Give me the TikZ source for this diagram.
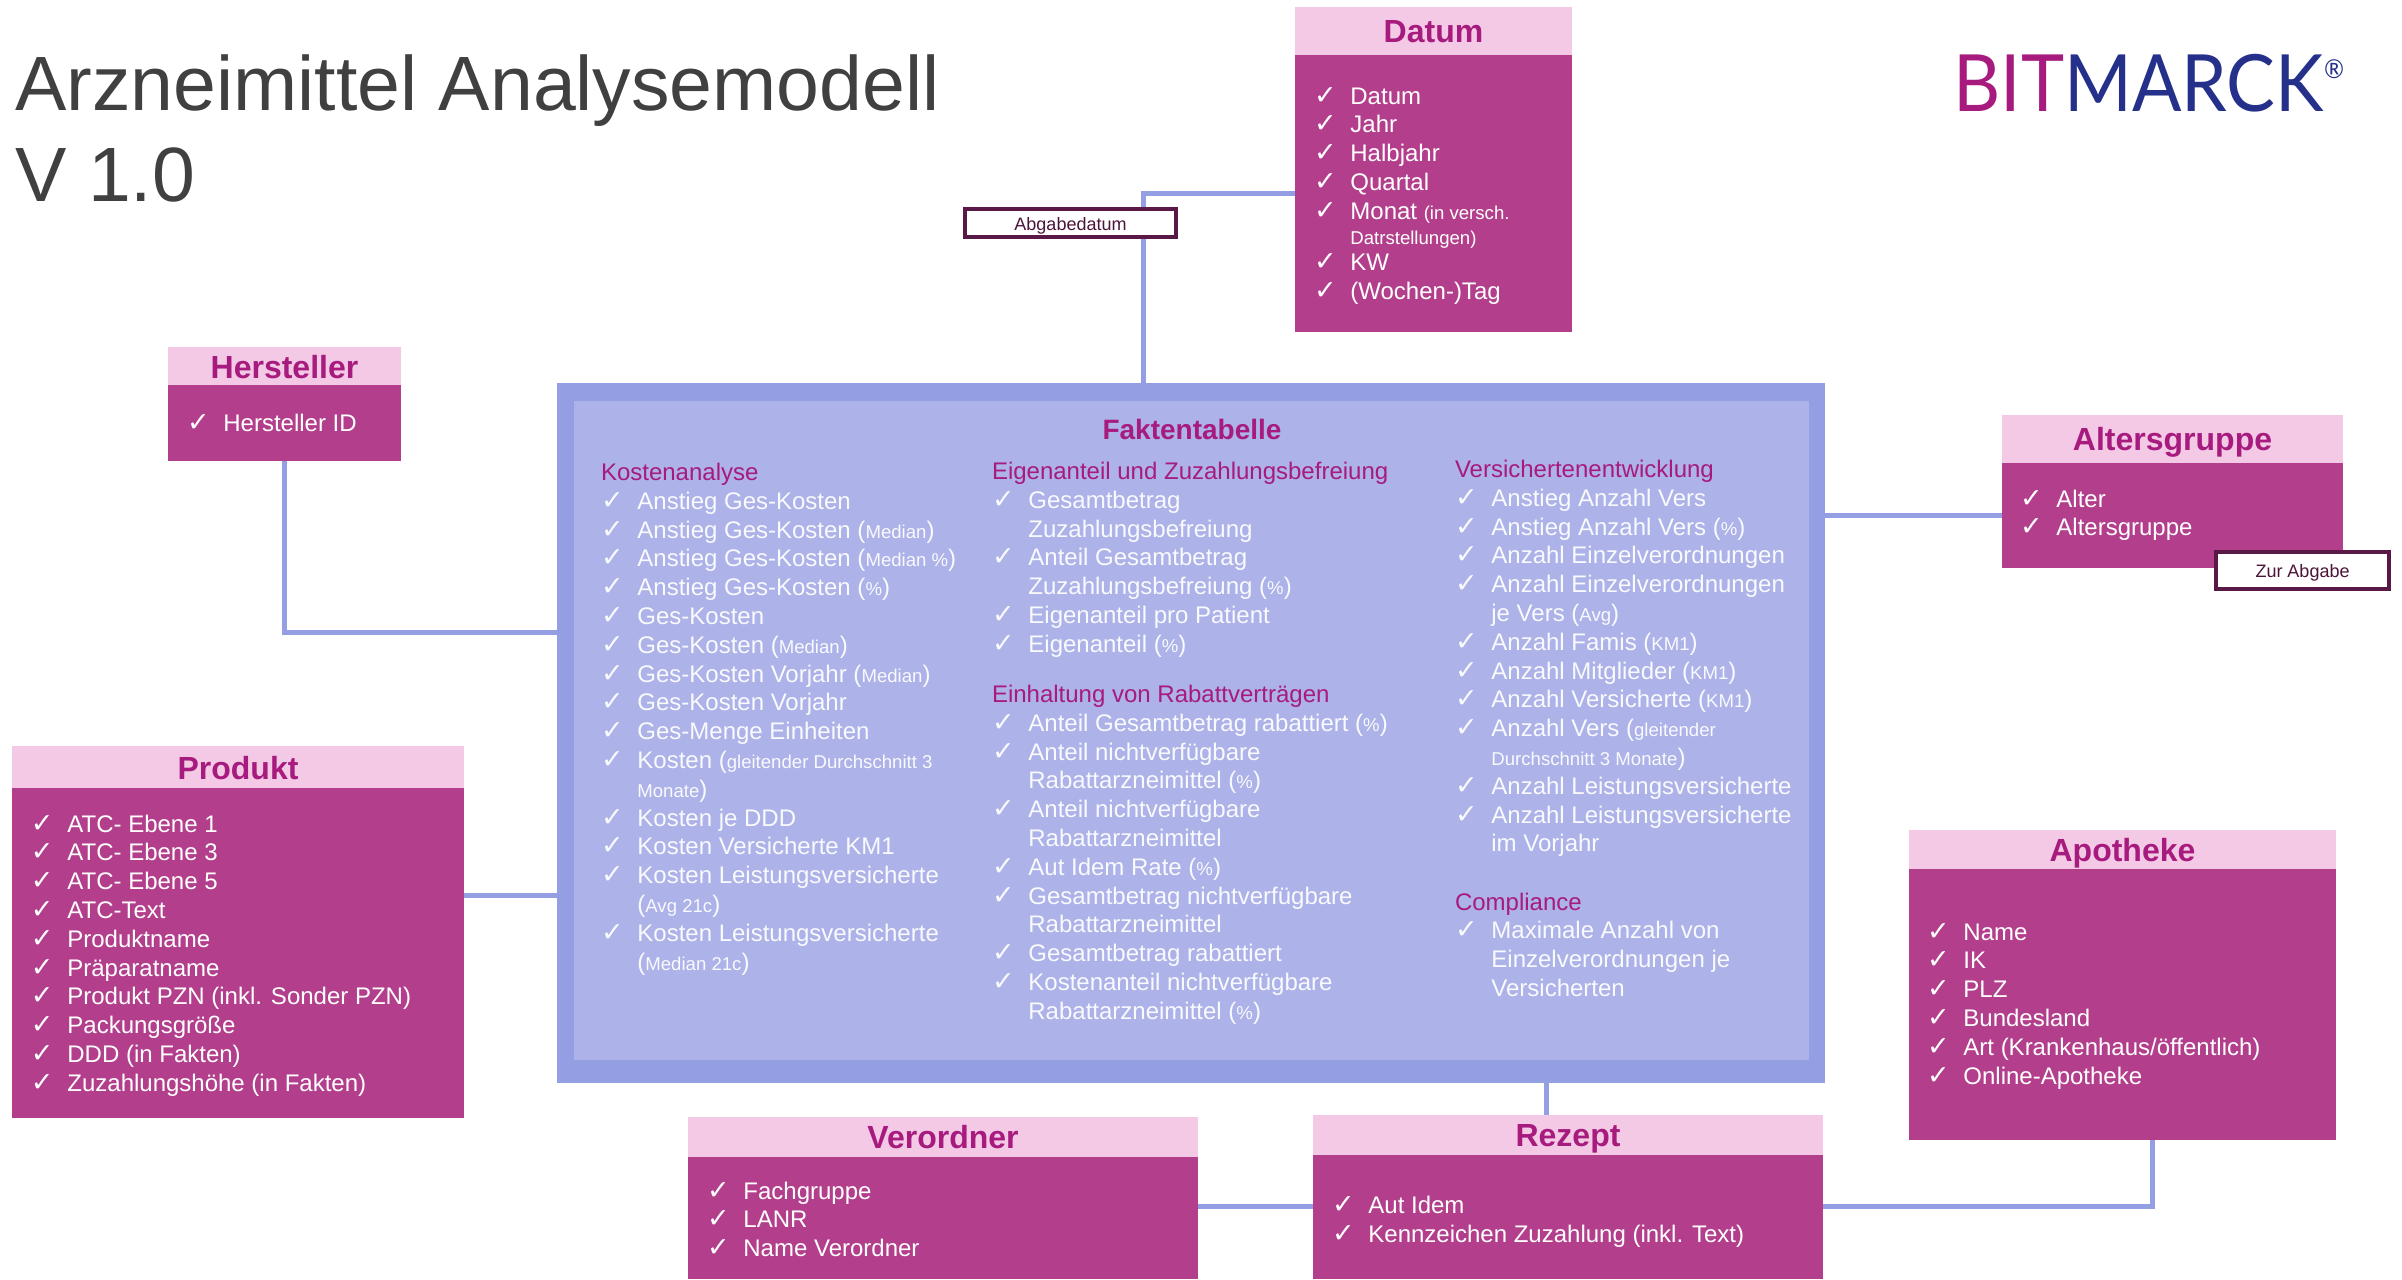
\documentclass[tikz,border=0pt]{standalone}
\usepackage{fontspec}
\setmainfont{Liberation Sans}
\newfontfamily\ckfont{DejaVu Sans}
\newfontfamily\logofont{Lato}
\definecolor{bodyc}{HTML}{B33F8C}
\definecolor{headc}{HTML}{F3C9E6}
\definecolor{titc}{HTML}{A71A7E}
\definecolor{outerc}{HTML}{949EE2}
\definecolor{innerc}{HTML}{ADB2E8}
\definecolor{framec}{HTML}{5A1846}
\definecolor{greyt}{HTML}{404040}
\definecolor{navyc}{HTML}{25308A}
\newcommand\ckitem{\strut\makebox[18.2pt][l]{\ckfont\fontsize{13.5}{14.4}\selectfont ✓}}
\newcommand\ckcont{\strut\hspace*{18.2pt}}
\newcommand\sm[1]{{\fontsize{9.3}{14.4}\selectfont #1}}
\newcommand\sect[1]{\strut{\color{titc}#1}}
\newcommand\hd[2]{\raisebox{#1}[0pt][0pt]{#2}}
\newcommand\bx[7]{%
  \pgfmathsetmacro\bxcx{(#2+#4)/2}\pgfmathsetmacro\bxcy{(#3+#5)/2}%
  \pgfmathsetmacro\bxw{(#4-#2)*0.5}\pgfmathsetmacro\bxh{(#5-#3)*0.5}%
  \node[#6,minimum width=\bxw pt,minimum height=\bxh pt] (#1) at (\bxcx,\bxcy) {#7};}
\tikzset{
  plain/.style={draw=none,inner sep=0pt,outer sep=0pt},
  bodybox/.style={plain,fill=bodyc},
  headbox/.style={plain,fill=headc,text=titc,font={\fontsize{16}{19}\selectfont\bfseries}},
  tagbox/.style={draw=framec,line width=2pt,fill=white,inner sep=0pt,text=framec!85!black,font={\fontsize{9}{11}\selectfont}},
  conn/.style={draw=outerc,line width=2.5pt},
  lst/.style={anchor=north west,inner sep=0pt,outer sep=0pt,align=left,yshift=10.08pt,text=white,font={\fontsize{12}{14.4}\selectfont}},
  lstb/.style={lst,text=white!93!innerc},
}
\begin{document}
\begin{tikzpicture}[x=0.5pt,y=-0.5pt]
\useasboundingbox (0,0) rectangle (2402,1279);
% fact table
\bx{fakt}{557}{383}{1825}{1083}{plain,fill=outerc}{}
\bx{inner}{574}{401}{1809}{1060}{plain,fill=innerc}{}
\node[anchor=center,inner sep=0pt,text=titc,font={\fontsize{14}{17}\selectfont\bfseries}] (fakttitle) at (1192,429) {Faktentabelle};
% boxes
\bx{datumb}{1295}{55}{1572}{332}{bodybox}{}
\bx{datumh}{1295}{7}{1572}{55}{headbox}{\hd{-6pt}{Datum}}
\bx{herstb}{168}{385}{401}{461}{bodybox}{}
\bx{hersth}{168}{347}{401}{385}{headbox}{\hd{-6pt}{Hersteller}}
\bx{prodb}{12}{788}{464}{1118}{bodybox}{}
\bx{prodh}{12}{746}{464}{788}{headbox}{\hd{-6pt}{Produkt}}
\bx{altb}{2002}{463}{2343}{568}{bodybox}{}
\bx{alth}{2002}{415}{2343}{463}{headbox}{\hd{-5.8pt}{Altersgruppe}}
\bx{apob}{1909}{869}{2336}{1140}{bodybox}{}
\bx{apoh}{1909}{830}{2336}{869}{headbox}{\hd{-6pt}{Apotheke}}
\bx{rezb}{1313}{1155}{1823}{1279}{bodybox}{}
\bx{rezh}{1313}{1115}{1823}{1155}{headbox}{\hd{-5.8pt}{Rezept}}
\bx{verb}{688}{1157}{1198}{1279}{bodybox}{}
\bx{verh}{688}{1117}{1198}{1157}{headbox}{\hd{-5.6pt}{Verordner}}
% connectors
\coordinate (c1) at (1143,193);
\coordinate (c2) at (284,632);
\coordinate (c3) at (464,895);
\coordinate (c4) at (1825,515);
\coordinate (c5) at (1546,1083);
\coordinate (c6) at (2152,1206);
\coordinate (c7) at (1198,1206);
\draw[conn] (datumb.west |- c1) -- (c1) -- (c1 |- fakt.north);
\draw[conn] (c2 |- herstb.south) -- (c2) -- (fakt.west |- c2);
\draw[conn] (c3) -- (fakt.west |- c3);
\draw[conn] (c4) -- (altb.west |- c4);
\draw[conn] (c5) -- (c5 |- rezh.north);
\draw[conn] (c6 |- apob.south) -- (c6) -- (rezb.east |- c6);
\draw[conn] (c7) -- (rezb.west |- c7);
% title and logo
\node[anchor=base west,inner sep=0pt,align=left,text=greyt,font={\fontsize{38.5}{46}\selectfont}] (title) at (15,111) {Arzneimittel Analysemodell};
\node[anchor=base west,inner sep=0pt,text=greyt,font={\fontsize{38.5}{46}\selectfont}] (version) at (15,201) {V 1.0};
\node[anchor=base west,inner sep=0pt,font={\logofont\fontsize{39.5}{40}\selectfont}] (logo) at (1953,112) {\scalebox{0.925}[1]{{\color{titc}BIT}{\color{navyc}MARCK}\raisebox{16.5pt}{\color{navyc}\fontsize{13}{13}\selectfont®}}};
% tags
\bx{tagdatum}{965}{209}{1176}{237}{tagbox}{\hd{-3.8pt}{Abgabedatum}}
% lists in boxes
\node[lst] (ldatum) at (1314,104) {\ckitem Datum\\\ckitem Jahr\\\ckitem Halbjahr\\\ckitem Quartal\\\ckitem Monat \sm{(in versch.}\\[-1.6pt]\ckcont\sm{Datrstellungen)}\\[-1.6pt]\ckitem KW\\\ckitem (Wochen-)Tag};
\node[lst] (lherst) at (187,431) {\ckitem Hersteller ID};
\node[lst] (lprod) at (31,832) {\ckitem ATC- Ebene 1\\\ckitem ATC- Ebene 3\\\ckitem ATC- Ebene 5\\\ckitem ATC-Text\\\ckitem Produktname\\\ckitem Präparatname\\\ckitem Produkt PZN (inkl. Sonder PZN)\\\ckitem Packungsgröße\\\ckitem DDD (in Fakten)\\\ckitem Zuzahlungshöhe (in Fakten)};
\node[lst] (lalt) at (2020,507) {\ckitem Alter\\\ckitem Altersgruppe};
\bx{tagzur}{2216}{552}{2389}{589}{tagbox}{\hd{-3.7pt}{Zur Abgabe}}
\node[lst] (lapo) at (1927,940) {\ckitem Name\\\ckitem IK\\\ckitem PLZ\\\ckitem Bundesland\\\ckitem Art (Krankenhaus/öffentlich)\\\ckitem Online-Apotheke};
\node[lst] (lver) at (707,1199) {\ckitem Fachgruppe\\\ckitem LANR\\\ckitem Name Verordner};
\node[lst] (lrez) at (1332,1213.5) {\ckitem Aut Idem\\\ckitem Kennzeichen Zuzahlung (inkl. Text)};
% fact columns
\node[lstb] (kost) at (601,480.5) {\sect{Kostenanalyse}\\
\ckitem Anstieg Ges-Kosten\\
\ckitem Anstieg Ges-Kosten (\sm{Median})\\
\ckitem Anstieg Ges-Kosten (\sm{Median \%})\\
\ckitem Anstieg Ges-Kosten (\sm{\%})\\
\ckitem Ges-Kosten\\
\ckitem Ges-Kosten (\sm{Median})\\
\ckitem Ges-Kosten Vorjahr (\sm{Median})\\
\ckitem Ges-Kosten Vorjahr\\
\ckitem Ges-Menge Einheiten\\
\ckitem Kosten (\sm{gleitender Durchschnitt 3}\\
\ckcont\sm{Monate})\\
\ckitem Kosten je DDD\\
\ckitem Kosten Versicherte KM1\\
\ckitem Kosten Leistungsversicherte\\
\ckcont(\sm{Avg 21c})\\
\ckitem Kosten Leistungsversicherte\\
\ckcont(\sm{Median 21c})};
\node[lstb] (eigen) at (992,479.5) {\sect{Eigenanteil und Zuzahlungsbefreiung}\\
\ckitem Gesamtbetrag\\
\ckcont Zuzahlungsbefreiung\\
\ckitem Anteil Gesamtbetrag\\
\ckcont Zuzahlungsbefreiung (\sm{\%})\\
\ckitem Eigenanteil pro Patient\\
\ckitem Eigenanteil (\sm{\%})};
\node[lstb] (rabatt) at (992,702.5) {\sect{Einhaltung von Rabattverträgen}\\
\ckitem Anteil Gesamtbetrag rabattiert (\sm{\%})\\
\ckitem Anteil nichtverfügbare\\
\ckcont Rabattarzneimittel (\sm{\%})\\
\ckitem Anteil nichtverfügbare\\
\ckcont Rabattarzneimittel\\
\ckitem Aut Idem Rate (\sm{\%})\\
\ckitem Gesamtbetrag nichtverfügbare\\
\ckcont Rabattarzneimittel\\
\ckitem Gesamtbetrag rabattiert\\
\ckitem Kostenanteil nichtverfügbare\\
\ckcont Rabattarzneimittel (\sm{\%})};
\node[lstb] (vers) at (1455,477.5) {\sect{Versichertenentwicklung}\\
\ckitem Anstieg Anzahl Vers\\
\ckitem Anstieg Anzahl Vers (\sm{\%})\\
\ckitem Anzahl Einzelverordnungen\\
\ckitem Anzahl Einzelverordnungen\\
\ckcont je Vers (\sm{Avg})\\
\ckitem Anzahl Famis (\sm{KM1})\\
\ckitem Anzahl Mitglieder (\sm{KM1})\\
\ckitem Anzahl Versicherte (\sm{KM1})\\
\ckitem Anzahl Vers (\sm{gleitender}\\
\ckcont\sm{Durchschnitt 3 Monate})\\
\ckitem Anzahl Leistungsversicherte\\
\ckitem Anzahl Leistungsversicherte\\
\ckcont im Vorjahr};
\node[lstb] (compl) at (1455,910) {\sect{Compliance}\\
\ckitem Maximale Anzahl von\\
\ckcont Einzelverordnungen je\\
\ckcont Versicherten};
\end{tikzpicture}
\end{document}
